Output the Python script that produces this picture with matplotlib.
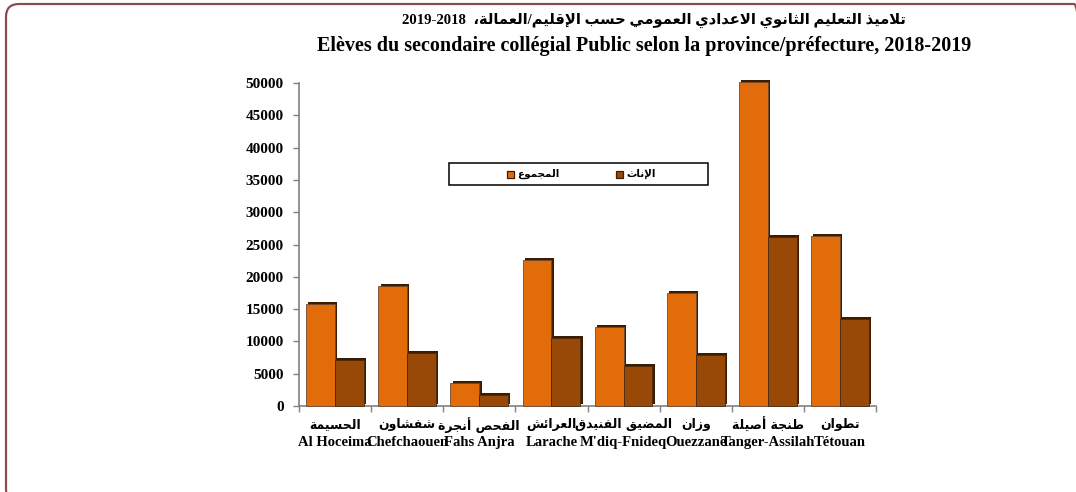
import matplotlib
matplotlib.use("Agg")
import matplotlib.pyplot as plt
import numpy as np
from matplotlib.patches import FancyBboxPatch, Rectangle
import matplotlib.patheffects as pe

# ---------------- data ----------------
categories_ar = ["الحسيمة", "شفشاون", "الفحص أنجرة", "العرائش", "المضيق الفنيدق",
                 "وزان", "طنجة أصيلة", "تطوان"]
categories_fr = ["Al Hoceima", "Chefchaouen", "Fahs Anjra", "Larache", "M'diq-Fnideq",
                 "Ouezzane", "Tanger-Assilah", "Tétouan"]
total = [15800, 18600, 3600, 22600, 12200, 17500, 50100, 26300]
female = [7100, 8200, 1700, 10500, 6200, 7900, 26200, 13400]
series_names = ["المجموع", "الإناث"]
yticks = [0, 5000, 10000, 15000, 20000, 25000, 30000, 35000, 40000, 45000, 50000]
title_ar = "تلاميذ التعليم الثانوي الاعدادي العمومي حسب الإقليم/العمالة،"
title_years = "2019-2018"
title_fr = "Elèves du secondaire collégial Public selon la province/préfecture, 2018-2019"

# ---------------- minimal Arabic shaping ----------------
FORMS = {  # isolated, final, initial, medial
    '\u0621': (0xFE80, None, None, None),
    '\u0623': (0xFE83, 0xFE84, None, None),
    '\u0625': (0xFE87, 0xFE88, None, None),
    '\u0626': (0xFE89, 0xFE8A, 0xFE8B, 0xFE8C),
    '\u0627': (0xFE8D, 0xFE8E, None, None),
    '\u0628': (0xFE8F, 0xFE90, 0xFE91, 0xFE92),
    '\u0629': (0xFE93, 0xFE94, None, None),
    '\u062A': (0xFE95, 0xFE96, 0xFE97, 0xFE98),
    '\u062B': (0xFE99, 0xFE9A, 0xFE9B, 0xFE9C),
    '\u062C': (0xFE9D, 0xFE9E, 0xFE9F, 0xFEA0),
    '\u062D': (0xFEA1, 0xFEA2, 0xFEA3, 0xFEA4),
    '\u062E': (0xFEA5, 0xFEA6, 0xFEA7, 0xFEA8),
    '\u062F': (0xFEA9, 0xFEAA, None, None),
    '\u0630': (0xFEAB, 0xFEAC, None, None),
    '\u0631': (0xFEAD, 0xFEAE, None, None),
    '\u0632': (0xFEAF, 0xFEB0, None, None),
    '\u0633': (0xFEB1, 0xFEB2, 0xFEB3, 0xFEB4),
    '\u0634': (0xFEB5, 0xFEB6, 0xFEB7, 0xFEB8),
    '\u0635': (0xFEB9, 0xFEBA, 0xFEBB, 0xFEBC),
    '\u0636': (0xFEBD, 0xFEBE, 0xFEBF, 0xFEC0),
    '\u0637': (0xFEC1, 0xFEC2, 0xFEC3, 0xFEC4),
    '\u0638': (0xFEC5, 0xFEC6, 0xFEC7, 0xFEC8),
    '\u0639': (0xFEC9, 0xFECA, 0xFECB, 0xFECC),
    '\u063A': (0xFECD, 0xFECE, 0xFECF, 0xFED0),
    '\u0641': (0xFED1, 0xFED2, 0xFED3, 0xFED4),
    '\u0642': (0xFED5, 0xFED6, 0xFED7, 0xFED8),
    '\u0643': (0xFED9, 0xFEDA, 0xFEDB, 0xFEDC),
    '\u0644': (0xFEDD, 0xFEDE, 0xFEDF, 0xFEE0),
    '\u0645': (0xFEE1, 0xFEE2, 0xFEE3, 0xFEE4),
    '\u0646': (0xFEE5, 0xFEE6, 0xFEE7, 0xFEE8),
    '\u0647': (0xFEE9, 0xFEEA, 0xFEEB, 0xFEEC),
    '\u0648': (0xFEED, 0xFEEE, None, None),
    '\u0649': (0xFEEF, 0xFEF0, None, None),
    '\u064A': (0xFEF1, 0xFEF2, 0xFEF3, 0xFEF4),
}
LAMALEF = {'\u0627': (0xFEFB, 0xFEFC), '\u0623': (0xFEF7, 0xFEF8),
           '\u0625': (0xFEF9, 0xFEFA), '\u0622': (0xFEF5, 0xFEF6)}


def joins_left(ch):
    f = FORMS.get(ch)
    return f is not None and f[2] is not None


def shape(text):
    out = []
    i = 0
    n = len(text)
    while i < n:
        ch = text[i]
        if ch not in FORMS:
            out.append(ch)
            i += 1
            continue
        prev = text[i - 1] if i > 0 else ''
        link_prev = joins_left(prev)
        if ch == '\u0644' and i + 1 < n and text[i + 1] in LAMALEF:
            iso, fin = LAMALEF[text[i + 1]]
            out.append(chr(fin if link_prev else iso))
            i += 2
            continue
        nxt = text[i + 1] if i + 1 < n else ''
        link_next = joins_left(ch) and nxt in FORMS
        iso, fin, ini, med = FORMS[ch]
        if link_prev and link_next:
            c = med
        elif link_prev:
            c = fin
        elif link_next:
            c = ini
        else:
            c = iso
        out.append(chr(c))
        i += 1
    return ''.join(out)


def ar(text):
    return shape(text)[::-1]

# ---------------- figure ----------------
plt.rcParams['font.family'] = ['Liberation Serif', 'DejaVu Sans']
fig = plt.figure(figsize=(10.76, 4.92), dpi=100)
W, H = 1076, 492


def fx(px):
    return px / W


def fy(py):
    return 1 - py / H

# outer rounded border (partly cut by figure edges)
border = FancyBboxPatch((fx(6), fy(502)), fx(1087 - 6), (502 - 4) / H,
                        boxstyle="round,pad=0,rounding_size=0.012",
                        transform=fig.transFigure, fill=False,
                        edgecolor='#8a4e52', linewidth=1.6, mutation_aspect=W / H)
fig.patches.append(border)

ax = fig.add_axes([fx(299), fy(406), (876 - 299) / W, (406 - 83) / H])

x = np.arange(len(categories_fr))
bw = 0.4
c_total = '#e36c0a'
c_fem = '#984807'
shadow = [pe.SimplePatchShadow(offset=(1.6, 1.6), shadow_rgbFace='#3d1c00', alpha=1.0), pe.Normal()]
b1 = ax.bar(x - bw / 2, total, width=bw, color=c_total, edgecolor='#6e4a30', linewidth=0.6,
            clip_on=False, zorder=3)
b2 = ax.bar(x + bw / 2, female, width=bw, color=c_fem, edgecolor='#4a2a10', linewidth=0.6,
            clip_on=False, zorder=3)
for b in list(b1) + list(b2):
    b.set_path_effects(shadow)

ax.set_xlim(-0.5, len(x) - 0.5)
ax.set_ylim(0, 50000)
ax.set_yticks(yticks)
ax.set_yticklabels([str(v) for v in yticks], fontsize=11, fontweight='bold',
                   family=['Liberation Serif'])
ax.set_xticks(np.arange(len(x) + 1) - 0.5)
ax.set_xticklabels([])
ax.tick_params(axis='both', direction='out', color='#808080', length=4, width=1)
ax.tick_params(axis='y', pad=7)
for s in ['top', 'right']:
    ax.spines[s].set_visible(False)
for s in ['left', 'bottom']:
    ax.spines[s].set_color('#808080')
    ax.spines[s].set_linewidth(1.2)

# category labels
for i in range(len(x)):
    ax.text(i, -2900, ar(categories_ar[i]), ha='center', va='center', fontsize=9,
            fontweight='bold', family=['DejaVu Sans'], clip_on=False)
    ax.text(i, -5600, categories_fr[i], ha='center', va='center', fontsize=10.5,
            fontweight='bold', family=['Liberation Serif'], clip_on=False)

# title
fig.text(fx(0.5 * (403 + 905)), fy(20), title_years + "  " + ar(title_ar),
         ha='center', va='center', fontsize=10.6, fontweight='bold',
         family=['Liberation Serif', 'DejaVu Sans'])
fig.text(fx(0.5 * (313 + 975)), fy(46), title_fr, ha='center', va='center',
         fontsize=14.5, fontweight='bold', family=['Liberation Serif'])

# legend (drawn as a boxed key)
fig.patches.append(Rectangle((fx(449), fy(185)), fx(708) - fx(449), fy(163) - fy(185),
                             transform=fig.transFigure, facecolor='white',
                             edgecolor='black', linewidth=1.1, zorder=5))
leg_items = [(series_names[0], c_total, 507), (series_names[1], c_fem, 616)]
for name, col, px in leg_items:
    sq = Rectangle((fx(px), fy(178)), fx(7), 7 / H, transform=fig.transFigure,
                   facecolor=col, edgecolor='#3d1c00', linewidth=0.9, zorder=6)
    sq.set_path_effects([pe.SimplePatchShadow(offset=(0.8, -0.8), shadow_rgbFace='#2a1400',
                                              alpha=1.0), pe.Normal()])
    fig.patches.append(sq)
    fig.text(fx(px + 10), fy(174), ar(name), ha='left', va='center', fontsize=7.5,
             fontweight='bold', family=['DejaVu Sans'], zorder=7)

fig.savefig('out.png', dpi=100)
